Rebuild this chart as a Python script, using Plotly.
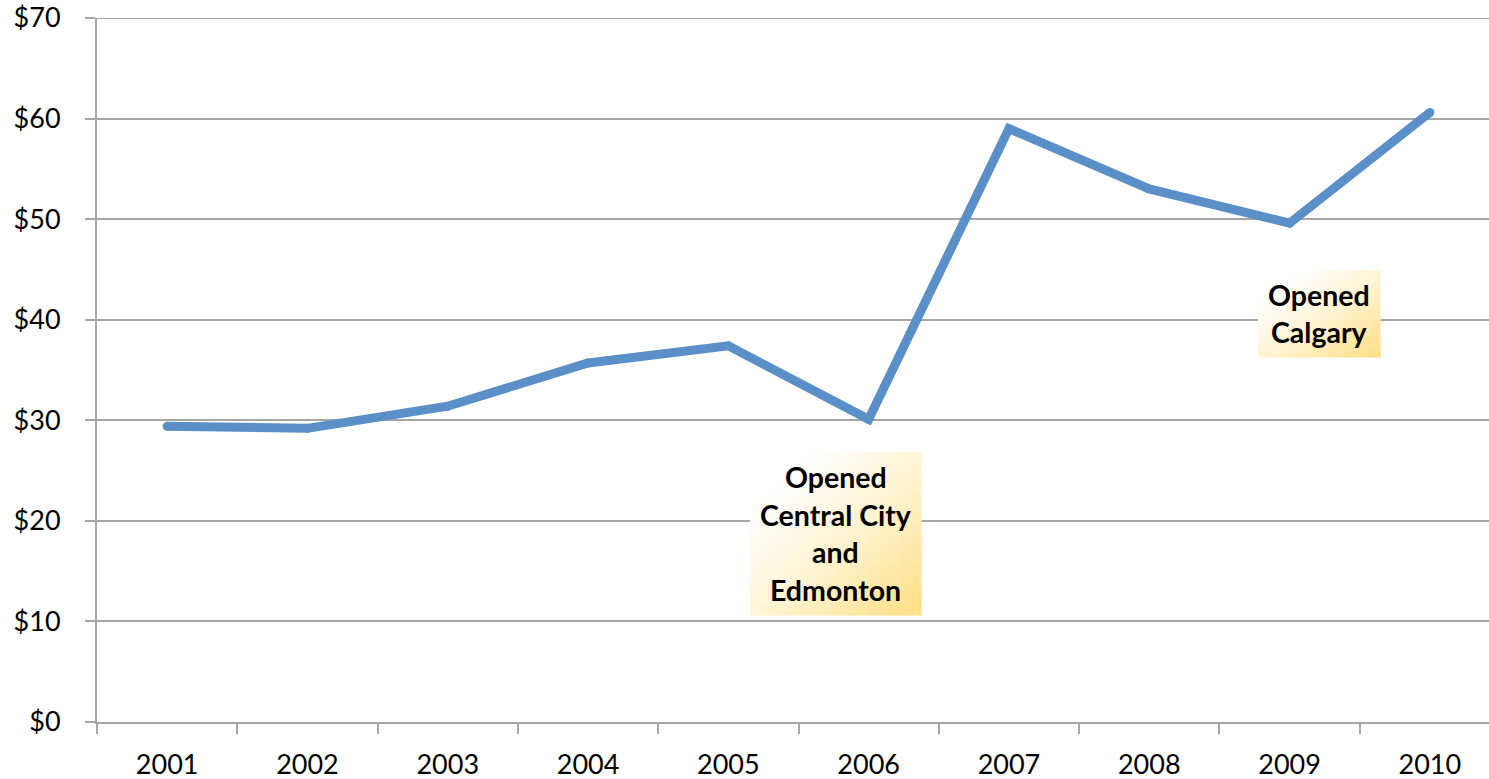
import plotly.graph_objects as go

years = ["2001", "2002", "2003", "2004", "2005", "2006", "2007", "2008", "2009", "2010"]
values = [29.4, 29.2, 31.4, 35.7, 37.4, 30.1, 59.0, 53.0, 49.6, 60.6]
y_ticks = [0, 10, 20, 30, 40, 50, 60, 70]
y_labels = ["$0", "$10", "$20", "$30", "$40", "$50", "$60", "$70"]
notes = [
    {"lines": ["Opened", "Central City", "and", "Edmonton"], "box": (750, 921, 452, 615)},
    {"lines": ["Opened", "Calgary"], "box": (1258, 1380, 270, 357)},
]

OFF = 0  # body margin removed via post_script
W, H = 1489 - OFF, 779 - OFF
L, R, T, B = 97 - OFF, 0, 18 - OFF, 57
pw, ph = W - L - R, H - T - B
xs = list(range(len(years)))
unit = 140.3
xmax = -0.5 + pw / unit
GRID = "#A6A6A6"
LINE = "#5B8FC8"

fig = go.Figure()
fig.add_trace(go.Scatter(x=xs, y=values, mode="lines+markers",
                         line=dict(color=LINE, width=9),
                         marker=dict(size=9, color=LINE, line=dict(width=0)),
                         hoverinfo="skip"))

def px2paper(px, py):
    return ((px - OFF) - L) / pw, ((H - B) - (py - OFF)) / ph

shapes = [dict(type="line", xref="paper", yref="y", x0=0, x1=1,
               y0=y_ticks[-1], y1=y_ticks[-1], line=dict(color=GRID, width=2),
               layer="below")]
annotations = []
N = 16
top = (255, 255, 255)
bot = (255, 222, 130)
for note in notes:
    x0, x1, y0, y1 = note["box"]
    cw = (x1 - x0) / N
    ch = (y1 - y0) / N
    for i in range(N):
        for j in range(N):
            t = ((i + 0.5) / N * 0.5 + (j + 0.5) / N * 0.5)
            t = max(0.0, (t - 0.15) / 0.85) ** 1.3
            c = tuple(int(round(top[k] + (bot[k] - top[k]) * t)) for k in range(3))
            ax0, ay0 = px2paper(x0 + i * cw, y0 + j * ch)
            ax1, ay1 = px2paper(x0 + (i + 1) * cw + 0.6, y0 + (j + 1) * ch + 0.6)
            shapes.append(dict(type="rect", xref="paper", yref="paper",
                               x0=ax0, x1=ax1, y0=ay1, y1=ay0,
                               fillcolor="rgb(%d,%d,%d)" % c, line=dict(width=0),
                               layer="above"))
    n = len(note["lines"])
    cx = (x0 + x1) / 2
    cy = (y0 + y1) / 2
    spacing = 37.7
    for k, txt in enumerate(note["lines"]):
        py = cy + (k - (n - 1) / 2) * spacing
        ax, ay = px2paper(cx, py)
        annotations.append(dict(x=ax, y=ay, xref="paper", yref="paper", text=txt,
                                showarrow=False, xanchor="center", yanchor="middle",
                                font=dict(family="Lato", size=28.5, color="black",
                                          weight="bold")))

fig.update_layout(
    width=W, height=H,
    margin=dict(l=L, r=R, t=T, b=B, pad=0, autoexpand=False),
    paper_bgcolor="white", plot_bgcolor="white",
    showlegend=False,
    font=dict(family="Lato", size=27, color="black"),
    shapes=shapes, annotations=annotations,
    xaxis=dict(range=[-0.5, xmax], tickvals=xs, ticktext=years, ticks="",
               showgrid=False, zeroline=False, showline=True, automargin=False,
               linecolor=GRID, linewidth=2, ticklabeloverflow="allow",
               minor=dict(tickvals=[i - 0.5 for i in range(len(years) + 1)],
                          ticks="outside", ticklen=10, tickwidth=2,
                          tickcolor=GRID, showgrid=False),
               ticklabelstandoff=18, tickfont=dict(size=27)),
    yaxis=dict(range=[0, 70], tickvals=y_ticks, ticktext=y_labels, automargin=False,
               ticks="outside", ticklen=10, tickwidth=2, tickcolor=GRID,
               showgrid=True, gridcolor=GRID, gridwidth=2, ticklabeloverflow="allow",
               zeroline=False, showline=True, linecolor=GRID, linewidth=2,
               ticklabelstandoff=19, tickfont=dict(size=27)),
)

fig.write_html("out.html", config={"displayModeBar": False},
               post_script="document.body.style.margin='0px';document.body.style.padding='0px';")
